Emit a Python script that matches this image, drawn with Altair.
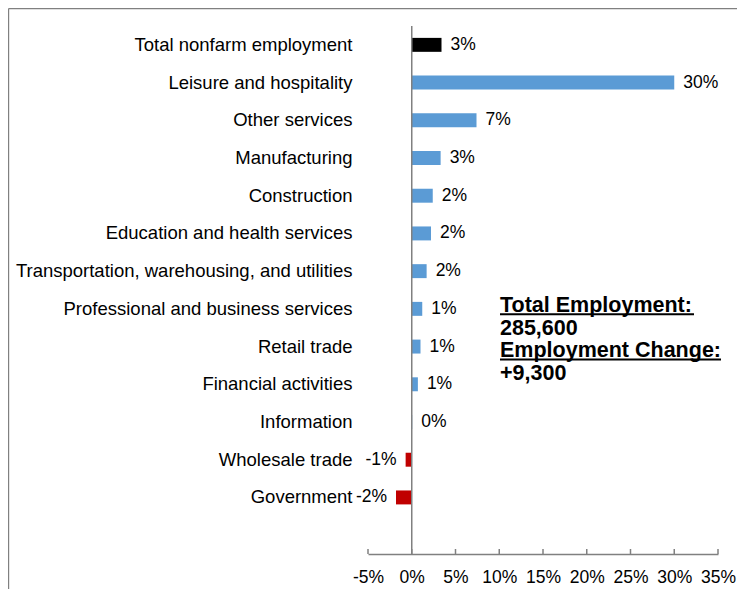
import altair as alt
import pandas as pd

categories = [
    "Total nonfarm employment",
    "Leisure and hospitality",
    "Other services",
    "Manufacturing",
    "Construction",
    "Education and health services",
    "Transportation, warehousing, and utilities",
    "Professional and business services",
    "Retail trade",
    "Financial activities",
    "Information",
    "Wholesale trade",
    "Government",
]
values = [3.4, 30.0, 7.4, 3.3, 2.4, 2.2, 1.7, 1.2, 1.0, 0.7, 0.05, -0.7, -1.8]
tick_values = [-5, 0, 5, 10, 15, 20, 25, 30, 35]
annotation_lines = ["Total Employment:", "285,600", "Employment Change:", "+9,300"]

FONT = "Liberation Sans"
W, H = 350, 528

df = pd.DataFrame({"category": categories, "value": values})
y_domain = categories + [""]

y_enc = alt.Y(
    "category:N",
    sort=y_domain,
    scale=alt.Scale(domain=y_domain, paddingInner=0.63, paddingOuter=0.315),
    axis=alt.Axis(title=None, ticks=False, domain=False, labelPadding=16,
                  labelFontSize=18.5, labelFont=FONT, labelColor="black",
                  labelLimit=600),
)
x_scale = alt.Scale(domain=[-5, 35], nice=False, zero=False)
x_enc = alt.X(
    "value:Q",
    scale=x_scale,
    axis=alt.Axis(title=None, values=tick_values, labelExpr="datum.value + '%'",
                  ticks=False, grid=False, domainColor="#808080", domainWidth=1.5,
                  labelFontSize=17.5, labelFont=FONT, labelColor="black",
                  labelPadding=14, labelFlush=False, labelOverlap=False,
                  labelBound=False),
)

base = alt.Chart(df).transform_calculate(
    grp="datum.category == 'Total nonfarm employment' ? 'total' : (datum.value < 0 ? 'neg' : 'pos')",
    lbl="(datum.value < 0 ? '-' : '') + format(abs(datum.value), '.0f') + '%'",
)

bars = base.mark_bar().encode(
    x=x_enc,
    x2=alt.datum(0),
    y=y_enc,
    color=alt.Color("grp:N", scale=alt.Scale(domain=["total", "pos", "neg"],
                                             range=["#000000", "#5B9BD5", "#C00000"]),
                    legend=None),
)

pos_labels = base.transform_filter("datum.value >= 0").mark_text(
    align="left", baseline="middle", dx=9, fontSize=17.5, font=FONT, color="black"
).encode(x=alt.X("value:Q", scale=x_scale), y=alt.Y("category:N", sort=y_domain), text="lbl:N")

neg_labels = base.transform_filter("datum.value < 0").mark_text(
    align="right", baseline="middle", dx=-9, fontSize=17.5, font=FONT, color="black"
).encode(x=alt.X("value:Q", scale=x_scale), y=alt.Y("category:N", sort=y_domain), text="lbl:N")

zero_line = alt.Chart(pd.DataFrame({"z": [0]})).mark_rule(
    color="#808080", strokeWidth=1.5
).encode(x=alt.X("z:Q", scale=x_scale))

ticks = alt.Chart(pd.DataFrame({"t": tick_values})).mark_rule(
    color="#808080", strokeWidth=1.5
).encode(x=alt.X("t:Q", scale=x_scale), y=alt.value(H - 5), y2=alt.value(H))

one = pd.DataFrame({"a": [0]})
ann_baselines = [286.0, 308.6, 331.2, 353.8]
ann_layers = []
for line, yb in zip(annotation_lines, ann_baselines):
    ann_layers.append(
        alt.Chart(one).mark_text(
            align="left", baseline="alphabetic", fontSize=21.5, fontWeight="bold",
            font=FONT, color="black", text=line
        ).encode(x=alt.value(132), y=alt.value(yb))
    )

underline1 = alt.Chart(one).mark_rule(color="black", strokeWidth=2).encode(
    x=alt.value(132), x2=alt.value(326), y=alt.value(288.3))
underline2 = alt.Chart(one).mark_rule(color="black", strokeWidth=2).encode(
    x=alt.value(132), x2=alt.value(353), y=alt.value(333.5))

frame_left = alt.Chart(one).mark_rule(color="#808080", strokeWidth=1.2).encode(
    x=alt.value(-359.4), y=alt.value(-17.4), y2=alt.value(H + 40))
frame_top = alt.Chart(one).mark_rule(color="#808080", strokeWidth=1.2).encode(
    x=alt.value(-359.4), x2=alt.value(400), y=alt.value(-17.4))

chart = alt.layer(
    frame_left, frame_top, bars, zero_line, ticks, pos_labels, neg_labels,
    *ann_layers, underline1, underline2
).properties(
    width=W, height=H,
    autosize=alt.AutoSizeParams(type="none"),
    padding={"left": 360, "top": 18, "right": 19, "bottom": 35},
    background="white",
).configure_view(stroke=None)

chart.save("out.html", embed_options={"renderer": "svg", "actions": False})
